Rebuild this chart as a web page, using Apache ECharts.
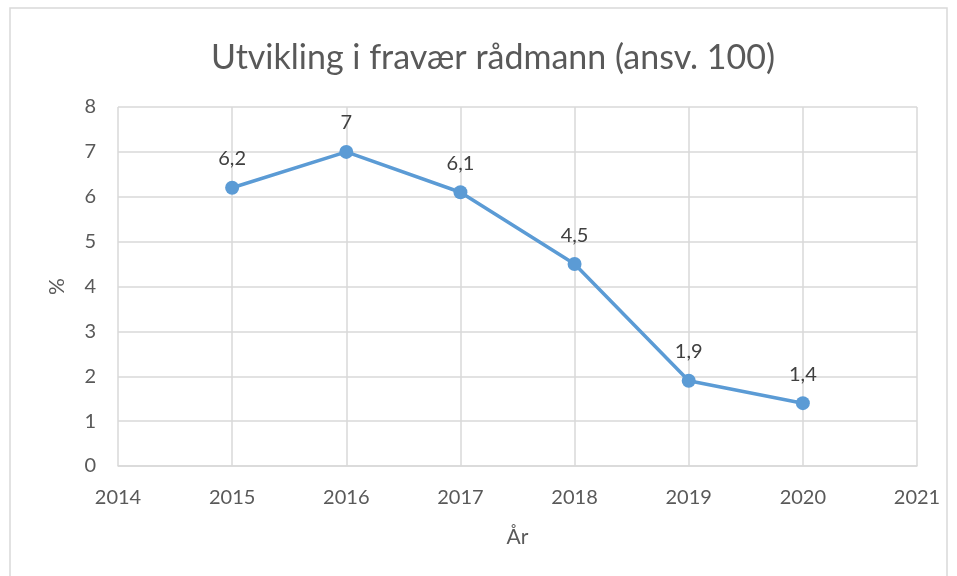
<!DOCTYPE html>
<html><head><meta charset="utf-8">
<script src="https://cdn.jsdelivr.net/npm/echarts@6/dist/echarts.min.js"></script>
<style>html,body{margin:0;padding:0;background:#fff}#c{width:957px;height:576px}</style>
</head><body><div id="c"></div>
<script>
const years = [2015, 2016, 2017, 2018, 2019, 2020];
const values = [6.2, 7, 6.1, 4.5, 1.9, 1.4];
const titleText = 'Utvikling i fravær rådmann (ansv. 100)';
const xName = 'År';
const yName = '%';
const FONT = 'Lato';
const chart = echarts.init(document.getElementById('c'));
chart.setOption({
  animation: false,
  textStyle: {fontFamily: FONT},
  title: {text: titleText, left: 206, top: 36,
    textStyle: {fontFamily: FONT, fontSize: 34, fontWeight: 'normal', color: '#595959'}},
  graphic: [{type: 'rect', shape: {x: 10, y: 8, width: 937, height: 580},
    style: {fill: 'none', stroke: '#d9d9d9', lineWidth: 1.5}, silent: true}],
  grid: {left: 118, right: 40, top: 107, bottom: 110, show: false},
  xAxis: {type: 'value', min: 2014, max: 2021, interval: 1,
    name: xName, nameLocation: 'middle', nameGap: 61,
    nameTextStyle: {fontSize: 21, color: '#595959', fontFamily: FONT},
    axisLine: {show: true, lineStyle: {color: '#d9d9d9', width: 1.5}},
    axisTick: {show: false},
    axisLabel: {fontSize: 20, color: '#595959', margin: 22, fontFamily: FONT,
      formatter: v => String(v)},
    splitLine: {show: true, lineStyle: {color: '#d9d9d9', width: 1.5}}},
  yAxis: {type: 'value', min: 0, max: 8, interval: 1,
    name: yName, nameLocation: 'middle', nameGap: 50, nameRotate: 90,
    nameTextStyle: {fontSize: 21, color: '#595959', fontFamily: FONT},
    axisLine: {show: false}, axisTick: {show: false},
    axisLabel: {fontSize: 20, color: '#595959', margin: 22, fontFamily: FONT},
    splitLine: {show: true, lineStyle: {color: '#d9d9d9', width: 1.5}}},
  series: [{type: 'line', data: years.map((y, i) => [y, values[i]]),
    symbol: 'circle', symbolSize: 14,
    lineStyle: {color: '#5b9bd5', width: 3.5},
    itemStyle: {color: '#5b9bd5'},
    label: {show: true, position: 'top', distance: 12, fontSize: 20, color: '#404040', fontFamily: FONT,
      formatter: p => String(p.value[1]).replace('.', ',')}}]
});
</script></body></html>
